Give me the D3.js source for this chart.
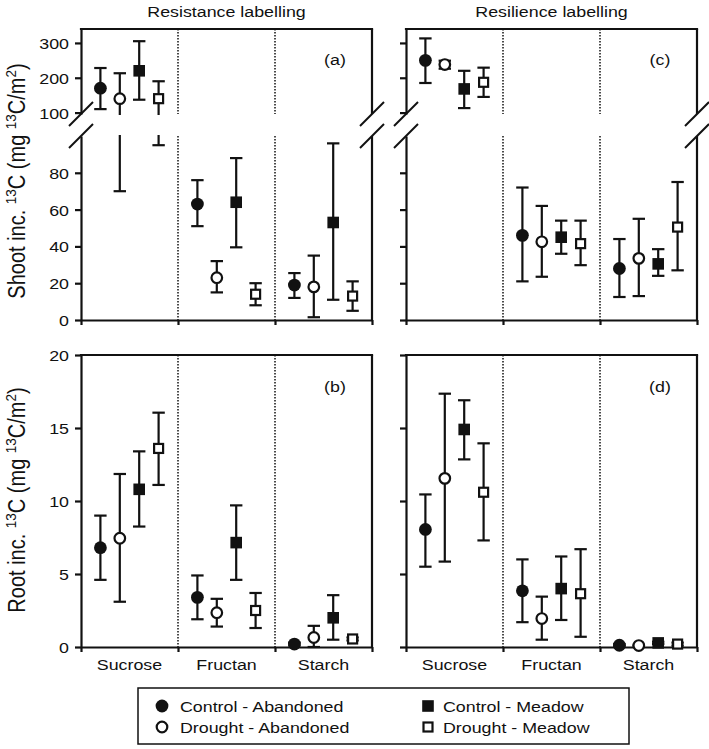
<!DOCTYPE html>
<html><head><meta charset="utf-8">
<script src="https://cdn.jsdelivr.net/npm/d3@7"></script>
<style>
body{margin:0;background:#fff}
svg{display:block}
text{font-family:'Liberation Sans',Arial,sans-serif;fill:#111}
</style>
</head><body>
<svg id="c" width="709" height="749"></svg>
<script>
// ---------- data ----------
const categories = ["Sucrose", "Fructan", "Starch"];
const seriesNames = ["Control - Abandoned", "Drought - Abandoned", "Control - Meadow", "Drought - Meadow"];
const columnTitles = ["Resistance labelling", "Resilience labelling"];
const panelLetters = ["(a)", "(b)", "(c)", "(d)"];
const shootTicksUpper = [100, 200, 300];
const shootTicksLower = [0, 20, 40, 60, 80];
const rootTicks = [0, 5, 10, 15, 20];

// rows: category (Sucrose, Fructan, Starch); columns: series order above
const shootResistanceMean = [[170, 140, 220, 140], [63, 23, 64, 14], [19, 18, 53, 13]];
const shootResistanceLow  = [[110, 70, 137, 95], [51, 15, 39.5, 8], [12, 1.5, 11, 5]];
const shootResistanceHigh = [[228, 213, 305, 190], [76, 32, 88, 20], [25.5, 35, 96, 21]];

const shootResilienceMean = [[250, 238, 168, 187], [46, 42.5, 45, 41.5], [28, 33.5, 30.5, 50.5]];
const shootResilienceLow  = [[185, 226, 113, 145], [21, 23.5, 36, 29.8], [12.5, 13, 24, 27]];
const shootResilienceHigh = [[313, 249, 220, 229], [72, 62, 54, 54], [44, 55, 38.5, 75]];

const rootResistanceMean = [[6.8, 7.45, 10.8, 13.6], [3.4, 2.35, 7.15, 2.5], [0.2, 0.65, 2.0, 0.55]];
const rootResistanceLow  = [[4.6, 3.1, 8.25, 11.1], [1.9, 1.4, 4.6, 1.3], [0.1, 0.0, 0.5, 0.45]];
const rootResistanceHigh = [[9.0, 11.85, 13.4, 16.05], [4.9, 3.3, 9.7, 3.7], [0.3, 1.45, 3.55, 0.65]];

const rootResilienceMean = [[8.05, 11.55, 14.9, 10.6], [3.85, 1.95, 4.0, 3.65], [0.12, 0.1, 0.28, 0.2]];
const rootResilienceLow  = [[5.5, 5.85, 12.85, 7.3], [1.7, 0.5, 1.85, 0.7], [0.05, 0.05, 0.2, 0.1]];
const rootResilienceHigh = [[10.45, 17.35, 16.9, 13.95], [6.0, 3.45, 6.2, 6.7], [0.2, 0.15, 0.36, 0.3]];

// ---------- layout ----------
const SX = 1.15;             // horizontal text stretch
const svg = d3.select("#c");
const W = 291;
const colX = [81, 406];
const TOP = {y0: 29, y1: 320, brkUp: 114, brkLo: 136};
const BOT = {y0: 355, y1: 647};
const INK = "#111";
const LW = 2.2;

function txt(g, str, x, y, size, anchor) {
  return g.append("text")
    .attr("transform", `translate(${x},${y}) scale(${SX},1)`)
    .attr("text-anchor", anchor || "middle")
    .style("font-size", size + "px")
    .text(str);
}
function line(g, x1, y1, x2, y2, w, dash) {
  const l = g.append("line").attr("x1", x1).attr("y1", y1).attr("x2", x2).attr("y2", y2)
    .attr("stroke", INK).attr("stroke-width", w || LW);
  if (dash) l.attr("stroke-dasharray", dash);
  return l;
}
function styleAxis(ax, showLabels) {
  ax.attr("font-family", null).attr("font-size", null);
  ax.select(".domain").attr("stroke", INK).attr("stroke-width", LW);
  ax.selectAll(".tick line").attr("stroke", INK).attr("stroke-width", LW);
  if (showLabels) {
    ax.selectAll(".tick text")
      .attr("x", -12 / SX).attr("dy", "0.35em")
      .attr("transform", `scale(${SX},1)`)
      .attr("fill", INK)
      .style("font-size", "15.5px");
  } else {
    ax.selectAll(".tick text").remove();
  }
}
function drawMarker(g, type, x, y) {
  if (type === 0) g.append("circle").attr("cx", x).attr("cy", y).attr("r", 6.4).attr("fill", INK);
  else if (type === 1) g.append("circle").attr("cx", x).attr("cy", y).attr("r", 5.3)
    .attr("fill", "#fff").attr("stroke", INK).attr("stroke-width", 2.2);
  else if (type === 2) g.append("rect").attr("x", x - 5.8).attr("y", y - 5.8).attr("width", 11.6).attr("height", 11.6).attr("fill", INK);
  else g.append("rect").attr("x", x - 4.5).attr("y", y - 4.5).attr("width", 9).attr("height", 9)
    .attr("fill", "#fff").attr("stroke", INK).attr("stroke-width", 2.2);
}

function drawPanel(col, isShoot, means, lows, highs, letter) {
  const g = svg.append("g");
  const x0 = colX[col], x1 = x0 + W;
  const xb = d3.scaleBand().domain(categories).range([x0, x1]);
  const xs = d3.scalePoint().domain(seriesNames).range([0, xb.bandwidth()]).padding(1);
  const xl = d3.scaleLinear().domain([0, categories.length]).range([x0, x1]);
  let y0, y1, yUp, yLo, yRoot;
  if (isShoot) {
    y0 = TOP.y0; y1 = TOP.y1;
    yUp = d3.scaleLinear().domain([96, 340]).range([TOP.brkUp, TOP.y0]);
    yLo = d3.scaleLinear().domain([0, 100]).range([TOP.y1, TOP.brkLo]);
  } else {
    y0 = BOT.y0; y1 = BOT.y1;
    yRoot = d3.scaleLinear().domain([0, 20]).range([BOT.y1, BOT.y0]);
  }
  // frame (top + right)
  line(g, x0, y0, x1, y0).attr("stroke-linecap", "square");
  if (isShoot) {
    line(g, x1, y0, x1, TOP.brkUp);
    line(g, x1, TOP.brkLo, x1, y1);
  } else {
    line(g, x1, y0, x1, y1);
  }
  // dotted separators
  for (let i = 1; i < categories.length; i++) {
    const xx = xl(i);
    if (isShoot) {
      line(g, xx, y0, xx, TOP.brkUp, 1.5, "1.5,1.5");
      line(g, xx, TOP.brkLo, xx, y1, 1.5, "1.5,1.5");
    } else {
      line(g, xx, y0, xx, y1, 1.5, "1.5,1.5");
    }
  }
  // x axis
  const xa = g.append("g").attr("transform", `translate(0,${y1})`)
    .call(d3.axisBottom(xl).tickValues(d3.range(categories.length + 1)).tickFormat("").tickSize(5).tickSizeOuter(0));
  styleAxis(xa, false);
  // y axes
  if (isShoot) {
    const a1 = g.append("g").attr("transform", `translate(${x0},0)`)
      .call(d3.axisLeft(yUp).tickValues(shootTicksUpper).tickSize(6).tickSizeOuter(0));
    styleAxis(a1, col === 0);
    const a2 = g.append("g").attr("transform", `translate(${x0},0)`)
      .call(d3.axisLeft(yLo).tickValues(shootTicksLower).tickSize(6).tickSizeOuter(0));
    styleAxis(a2, col === 0);
  } else {
    const a = g.append("g").attr("transform", `translate(${x0},0)`)
      .call(d3.axisLeft(yRoot).tickValues(rootTicks).tickSize(6).tickSizeOuter(0));
    styleAxis(a, col === 0);
    categories.forEach(c => txt(g, c, xb(c) + xb.bandwidth() / 2, 670, 15.5));
  }
  // error bars
  const cap = 6.2;
  categories.forEach((c, ci) => {
    seriesNames.forEach((s, si) => {
      const x = xb(c) + xs(s);
      const lo = lows[ci][si], hi = highs[ci][si];
      if (isShoot) {
        const yHi = hi > 100 ? yUp(hi) : yLo(hi);
        const yLoV = lo > 100 ? yUp(lo) : yLo(lo);
        if (hi > 100 && lo <= 100) {
          line(g, x, yHi, x, TOP.brkUp + 1);
          line(g, x, TOP.brkLo - 1, x, yLoV);
        } else {
          line(g, x, yHi, x, yLoV);
        }
        line(g, x - cap, yHi, x + cap, yHi);
        line(g, x - cap, yLoV, x + cap, yLoV);
      } else {
        line(g, x, yRoot(hi), x, yRoot(lo));
        line(g, x - cap, yRoot(hi), x + cap, yRoot(hi));
        line(g, x - cap, yRoot(lo), x + cap, yRoot(lo));
      }
    });
  });
  // markers
  categories.forEach((c, ci) => {
    seriesNames.forEach((s, si) => {
      const x = xb(c) + xs(s);
      const m = means[ci][si];
      const y = isShoot ? (m > 100 ? yUp(m) : yLo(m)) : yRoot(m);
      drawMarker(g, si, x, y);
    });
  });
  // axis break slashes
  if (isShoot) {
    [x0, x1].forEach(xx => {
      [TOP.brkUp, TOP.brkLo].forEach(yc => line(g, xx - 12, yc + 12, xx + 12, yc - 12, 2));
    });
  }
  // panel letter
  txt(g, letter, x0 + 254, isShoot ? 65 : 392, 15.5);
}

drawPanel(0, true, shootResistanceMean, shootResistanceLow, shootResistanceHigh, panelLetters[0]);
drawPanel(0, false, rootResistanceMean, rootResistanceLow, rootResistanceHigh, panelLetters[1]);
drawPanel(1, true, shootResilienceMean, shootResilienceLow, shootResilienceHigh, panelLetters[2]);
drawPanel(1, false, rootResilienceMean, rootResilienceLow, rootResilienceHigh, panelLetters[3]);

// column titles
columnTitles.forEach((t, i) => txt(svg, t, colX[i] + W / 2, 17, 15.5));

// y axis titles with superscripts
function yTitle(prefix, cy) {
  const t = svg.append("text")
    .attr("transform", `translate(25,${cy}) scale(${SX},1) rotate(-90)`)
    .attr("text-anchor", "middle")
    .style("font-size", "20px");
  const parts = [[prefix + " inc. ", 0], ["13", 1], ["C (mg ", 0], ["13", 1], ["C/m", 0], ["2", 1], [")", 0]];
  let prev = 0;
  parts.forEach(([s, sup]) => {
    const shift = sup ? -7.5 : 0;
    t.append("tspan").attr("dy", shift - prev).style("font-size", sup ? "13.5px" : null).text(s);
    prev = shift;
  });
}
yTitle("Shoot", 181);
yTitle("Root", 500);

// legend
const lg = svg.append("g");
lg.append("rect").attr("x", 138).attr("y", 688).attr("width", 491).attr("height", 56)
  .attr("fill", "none").attr("stroke", INK).attr("stroke-width", 1.5);
const legendPos = [[162, 706, 180], [162, 727, 180], [428, 706, 443], [428, 727, 443]];
seriesNames.forEach((s, i) => {
  const [mx, my, tx] = legendPos[i];
  drawMarker(lg, i, mx, my);
  txt(lg, s, tx, my + 6, 15.5, "start");
});
</script>
</body></html>
